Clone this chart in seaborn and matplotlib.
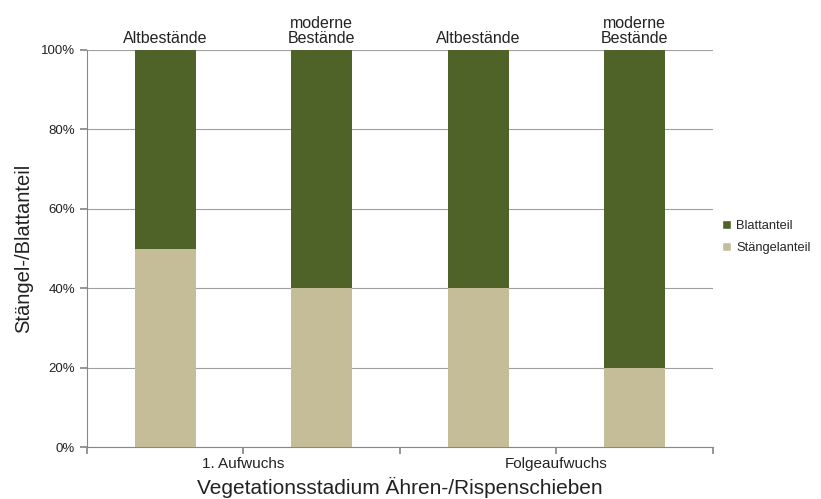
import matplotlib
matplotlib.use("Agg")
import matplotlib.pyplot as plt
import seaborn as sns
import pandas as pd
from matplotlib.patches import Patch

# Data (percent)
bar_keys = ["A1", "M1", "A2", "M2"]
bar_labels = ["Altbestände", "moderne\nBestände", "Altbestände", "moderne\nBestände"]
group_labels = ["1. Aufwuchs", "Folgeaufwuchs"]
staengel = [50, 40, 40, 20]
blatt = [50, 60, 60, 80]

green = "#4F6228"
tan = "#C4BD97"

sns.set_theme(style="white")
plt.rcParams["font.family"] = ["Liberation Sans", "DejaVu Sans"]

df = pd.DataFrame({"key": bar_keys, "Stängelanteil": staengel, "Blattanteil": blatt})
df["total"] = df["Stängelanteil"] + df["Blattanteil"]

fig = plt.figure(figsize=(8.21, 4.99), dpi=100)
ax = fig.add_axes([0.106, 0.104, 0.762, 0.796])

sns.barplot(data=df, x="key", y="total", color=green, width=0.39, ax=ax,
            saturation=1, linewidth=0)
sns.barplot(data=df, x="key", y="Stängelanteil", color=tan, width=0.39, ax=ax,
            saturation=1, linewidth=0)

ax.set_xlim(-0.5, 3.5)
ax.set_ylim(0, 100)
ax.set_yticks([0, 20, 40, 60, 80, 100])
ax.set_yticklabels([f"{v}%" for v in [0, 20, 40, 60, 80, 100]], fontsize=9.5, color="#222222")
ax.yaxis.grid(True, color="#A0A0A0", linewidth=0.8)
ax.set_axisbelow(True)

# group boundaries as tick marks, group labels in between
ax.set_xticks([-0.5, 0.5, 1.5, 2.5, 3.5])
ax.set_xticklabels(["", group_labels[0], "", group_labels[1], ""], fontsize=11, color="#222222")
ax.tick_params(axis="x", direction="out", length=5, color="#888888", pad=2, bottom=True)
ax.tick_params(axis="y", direction="out", length=5, color="#888888", left=True)

for s in ["top", "right"]:
    ax.spines[s].set_visible(False)
for s in ["left", "bottom"]:
    ax.spines[s].set_color("#888888")
    ax.spines[s].set_linewidth(0.8)

for i, lab in enumerate(bar_labels):
    ax.text(i, 101, lab, ha="center", va="bottom", fontsize=11.5, color="#222222", linespacing=1.0)

ax.set_xlabel("Vegetationsstadium Ähren-/Rispenschieben", fontsize=15, color="#222222")
ax.xaxis.set_label_coords(0.5, -0.075)
ax.set_ylabel("Stängel-/Blattanteil", fontsize=14.5, color="#222222", labelpad=6)

handles = [Patch(facecolor=green, label="Blattanteil"), Patch(facecolor=tan, label="Stängelanteil")]
fig.legend(handles=handles, loc="center left", bbox_to_anchor=(0.865, 0.525), frameon=False,
           fontsize=9.3, handlelength=0.7, handleheight=0.7, handletextpad=0.4, labelspacing=0.8)

fig.savefig("out.png", dpi=100)
